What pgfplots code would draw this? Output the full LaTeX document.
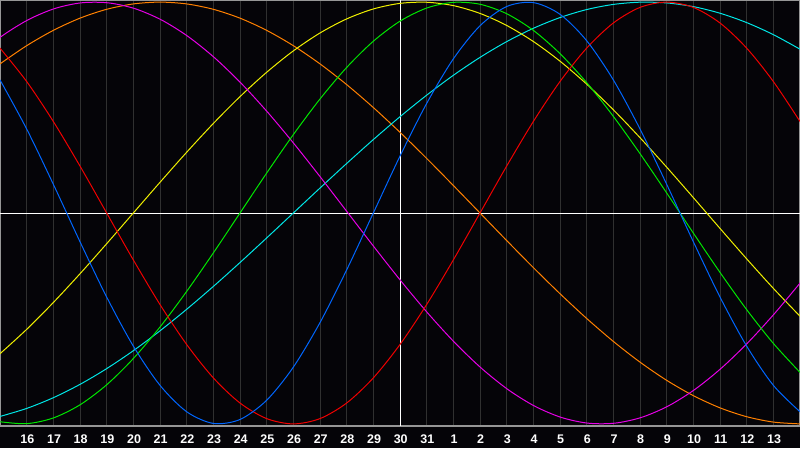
\documentclass[border=0pt]{standalone}
\usepackage{pgfplots}
\pgfplotsset{compat=1.18}
\usepackage{fontspec}
\setmainfont{Liberation Sans}
\definecolor{bgc}{RGB}{5,4,8}
\definecolor{gridc}{RGB}{48,48,48}
\definecolor{framec}{RGB}{150,150,150}
\definecolor{cblue}{RGB}{0,102,255}
\definecolor{cred}{RGB}{240,0,0}
\definecolor{cgreen}{RGB}{0,230,0}
\definecolor{ccyan}{RGB}{0,230,230}
\definecolor{cmag}{RGB}{230,0,230}
\definecolor{cyel}{RGB}{240,240,0}
\definecolor{corange}{RGB}{255,128,0}
\begin{document}
\begin{tikzpicture}
\useasboundingbox (0pt,-22pt) rectangle (800pt,426pt);
\fill[bgc] (0pt,-22pt) rectangle (800pt,426pt);
\begin{axis}[
  at={(0pt,0pt)}, anchor=south west,
  scale only axis, width=800pt, height=426pt,
  xmin=-15, xmax=15, ymin=-1.01, ymax=1.01,
  axis line style={draw=framec, line width=1.2pt},
  xtick={-14,...,14},
  xticklabels={16,17,18,19,20,21,22,23,24,25,26,27,28,29,30,31,1,2,3,4,5,6,7,8,9,10,11,12,13},
  ytick=\empty,
  major tick length=0pt,
  xmajorgrids, grid style={draw=gridc, line width=1pt},
  xticklabel style={anchor=center, xshift=0.7pt, yshift=-13pt, text=white, font=\fontsize{12.5}{13}\selectfont\bfseries},
  every axis plot/.append style={line width=1pt, smooth, no markers},
]
\draw[white, line width=1pt] (axis cs:0,-1.01) -- (axis cs:0,1.01);
\draw[white, line width=1pt] (axis cs:-15,0) -- (axis cs:15,0);
% orange (48 d)
\addplot[corange] coordinates {(-15,0.7071) (-14,0.7934) (-13,0.8660) (-12,0.9239) (-11,0.9659) (-10,0.9914) (-9,1) (-8,0.9914) (-7,0.9659) (-6,0.9239) (-5,0.8660) (-4,0.7934) (-3,0.7071) (-2,0.6088) (-1,0.5) (0,0.3827) (1,0.2588) (2,0.1305) (3,0) (4,-0.1305) (5,-0.2588) (6,-0.3827) (7,-0.5) (8,-0.6088) (9,-0.7071) (10,-0.7934) (11,-0.8660) (12,-0.9239) (13,-0.9659) (14,-0.9914) (15,-1)};
% cyan (53 d)
\addplot[ccyan] coordinates {(-15,-0.9647) (-14,-0.9267) (-13,-0.8758) (-12,-0.8126) (-11,-0.7379) (-10,-0.6529) (-9,-0.5586) (-8,-0.4566) (-7,-0.3482) (-6,-0.2349) (-5,-0.1183) (-4,0) (-3,0.1183) (-2,0.2349) (-1,0.3482) (0,0.4566) (1,0.5586) (2,0.6529) (3,0.7379) (4,0.8126) (5,0.8758) (6,0.9267) (7,0.9647) (8,0.9890) (9,0.9996) (10,0.9961) (11,0.9786) (12,0.9473) (13,0.9028) (14,0.8457) (15,0.7767)};
% yellow (43 d)
\addplot[cyel] coordinates {(-15,-0.6673) (-14,-0.5518) (-13,-0.4245) (-12,-0.2881) (-11,-0.1456) (-10,0) (-9,0.1456) (-8,0.2881) (-7,0.4245) (-6,0.5518) (-5,0.6673) (-4,0.7687) (-3,0.8536) (-2,0.9203) (-1,0.9675) (0,0.9940) (1,0.9993) (2,0.9834) (3,0.9464) (4,0.8893) (5,0.8133) (6,0.7199) (7,0.6112) (8,0.4894) (9,0.3572) (10,0.2174) (11,0.0730) (12,-0.0730) (13,-0.2174) (14,-0.3572) (15,-0.4895)};
% magenta (38 d)
\addplot[cmag] coordinates {(-15.95,0.7357) (-14.95,0.8372) (-13.95,0.9158) (-12.95,0.9694) (-11.95,0.9966) (-10.95,0.9966) (-9.95,0.9694) (-8.95,0.9158) (-7.95,0.8372) (-6.95,0.7357) (-5.95,0.6142) (-4.95,0.4759) (-3.95,0.3247) (-2.95,0.1646) (-1.95,0) (-0.95,-0.1646) (0.05,-0.3247) (1.05,-0.4759) (2.05,-0.6142) (3.05,-0.7357) (4.05,-0.8372) (5.05,-0.9158) (6.05,-0.9694) (7.05,-0.9966) (8.05,-0.9966) (9.05,-0.9694) (10.05,-0.9158) (11.05,-0.8372) (12.05,-0.7357) (13.05,-0.6142) (14.05,-0.4759) (15.05,-0.3247)};
% green (33 d)
\addplot[cgreen] coordinates {(-15,-0.9898) (-14,-0.9989) (-13,-0.9718) (-12,-0.9096) (-11,-0.8146) (-10,-0.6901) (-9,-0.5406) (-8,-0.3717) (-7,-0.1893) (-6,0) (-5,0.1893) (-4,0.3717) (-3,0.5406) (-2,0.6901) (-1,0.8146) (0,0.9096) (1,0.9718) (2,0.9989) (3,0.9898) (4,0.9450) (5,0.8660) (6,0.7557) (7,0.6182) (8,0.4582) (9,0.2817) (10,0.0951) (11,-0.0951) (12,-0.2817) (13,-0.4582) (14,-0.6182) (15,-0.7557)};
% red (28 d)
\addplot[cred] coordinates {(-15,0.7818) (-14,0.6235) (-13,0.4339) (-12,0.2225) (-11,0) (-10,-0.2225) (-9,-0.4339) (-8,-0.6235) (-7,-0.7818) (-6,-0.9010) (-5,-0.9749) (-4,-1) (-3,-0.9749) (-2,-0.9010) (-1,-0.7818) (0,-0.6235) (1,-0.4339) (2,-0.2225) (3,0) (4,0.2225) (5,0.4339) (6,0.6235) (7,0.7818) (8,0.9010) (9,0.9749) (10,1) (11,0.9749) (12,0.9010) (13,0.7818) (14,0.6235) (15,0.4339)};
% blue (23 d)
\addplot[cblue] coordinates {(-15,0.6311) (-14,0.3984) (-13,0.1362) (-12,-0.1362) (-11,-0.3984) (-10,-0.6311) (-9,-0.8170) (-8,-0.9423) (-7,-0.9977) (-6,-0.9791) (-5,-0.8879) (-4,-0.7308) (-3,-0.5196) (-2,-0.2698) (-1,0) (0,0.2698) (1,0.5196) (2,0.7308) (3,0.8879) (4,0.9791) (5,0.9977) (6,0.9423) (7,0.8170) (8,0.6311) (9,0.3984) (10,0.1362) (11,-0.1362) (12,-0.3984) (13,-0.6311) (14,-0.8170) (15,-0.9423)};
\end{axis}
\end{tikzpicture}
\end{document}
